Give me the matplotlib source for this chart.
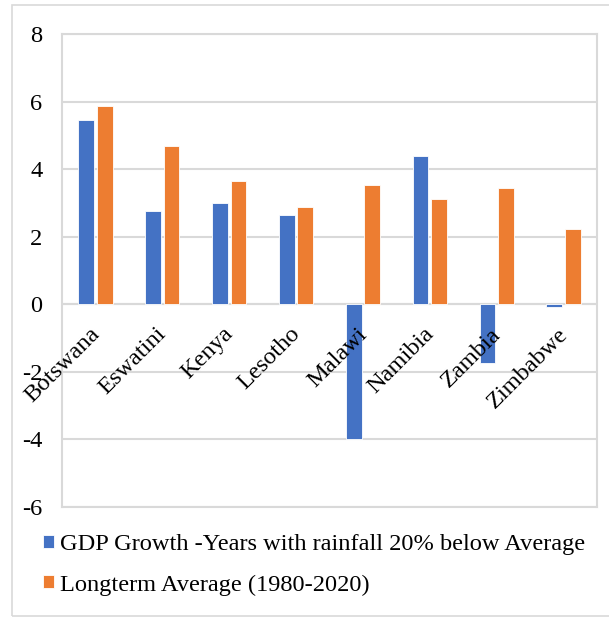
import numpy as np
import matplotlib.pyplot as plt
from matplotlib.patches import Rectangle

countries = ["Botswana", "Eswatini", "Kenya", "Lesotho", "Malawi", "Namibia", "Zambia", "Zimbabwe"]
gdp_dry = [5.45, 2.77, 3.0, 2.64, -3.98, 4.38, -1.74, -0.08]
gdp_avg = [5.88, 4.68, 3.65, 2.88, 3.53, 3.13, 3.43, 2.23]
label_dry = "GDP Growth -Years with rainfall 20% below Average"
label_avg = "Longterm Average (1980-2020)"

BLUE = "#4472C4"
ORANGE = "#ED7D31"
GRID = "#D9D9D9"
FS = 17.6

plt.rcParams['font.family'] = ['Liberation Serif', 'DejaVu Serif']

fig = plt.figure(figsize=(6.09, 6.19), dpi=100)
fig.patches.append(Rectangle((12 / 609, 3 / 619), 1.0, 1 - 8 / 619, transform=fig.transFigure,
                             fill=False, edgecolor=GRID, linewidth=1.2))

ax = fig.add_axes([62 / 609, 1 - 507 / 619, 535 / 609, 473 / 619])

x = np.arange(len(countries))
w = 0.235
ax.bar(x - 0.138, gdp_dry, w, color=BLUE, edgecolor="white", linewidth=0.6, label=label_dry, zorder=3)
ax.bar(x + 0.138, gdp_avg, w, color=ORANGE, edgecolor="white", linewidth=0.6, label=label_avg, zorder=3)

ax.set_xlim(-0.5, len(countries) - 0.5)
ax.set_ylim(-6, 8)
ax.set_yticks(np.arange(-6, 9, 2))
ax.set_yticklabels([str(v) for v in range(-6, 9, 2)], fontsize=FS)
ax.tick_params(axis="y", length=0, pad=14)
ax.set_xticks([])
ax.grid(axis="y", color=GRID, linewidth=1.5, zorder=0)
ax.axhline(0, color=GRID, linewidth=1.5, zorder=1)
for s in ax.spines.values():
    s.set_color(GRID)
    s.set_linewidth(1.5)

# rotated country names sit just under the zero line, like the Excel original
for i, name in enumerate(countries):
    ax.text(i - 0.1, -0.57, name, rotation=45, ha="right", va="top",
            rotation_mode="anchor", fontsize=FS, zorder=4)

fig.legend(loc="center left", bbox_to_anchor=(31 / 609, 1 - 565 / 619), frameon=False,
           fontsize=FS, handlelength=0.45, handleheight=0.45, handletextpad=0.25,
           labelspacing=0.77, borderpad=0)

fig.savefig("out.png", dpi=100)
